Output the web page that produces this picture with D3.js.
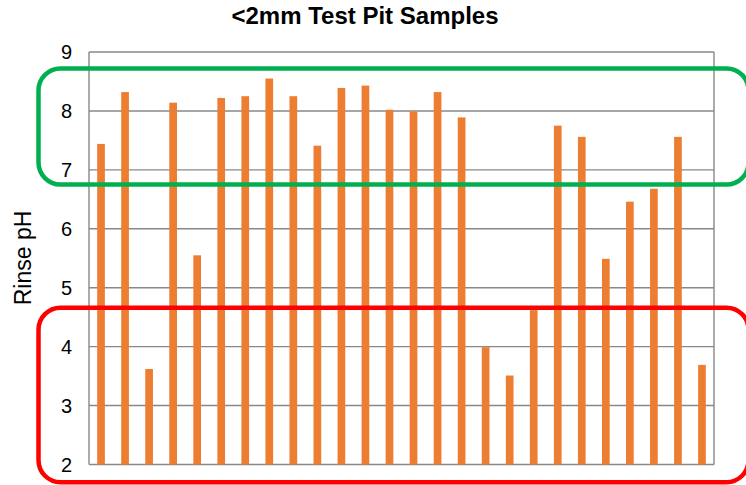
<!DOCTYPE html>
<html>
<head>
<meta charset="utf-8">
<script src="https://cdn.jsdelivr.net/npm/d3@7"></script>
<style>
  body { margin: 0; background: #fff; }
  text { font-family: "Liberation Sans", Arial, sans-serif; }
</style>
</head>
<body>
<svg id="chart" width="746" height="485"></svg>
<script>
// sample values (rinse pH)
const samples = d3.range(1, 27).map(String);
const rinsePH = [7.44, 8.32, 3.62, 8.14, 5.55, 8.22, 8.25, 8.55, 8.25, 7.41,
                 8.39, 8.43, 8.02, 7.99, 8.32, 7.89, 3.99, 3.51, 4.62, 7.75,
                 7.56, 5.49, 6.46, 6.68, 7.56, 3.69];
const yTicks = [2, 3, 4, 5, 6, 7, 8, 9];
// highlight boxes, in pH units
const boxes = [
  {top: 8.72, bottom: 6.75, color: "#00b050"},
  {top: 4.66, bottom: 1.70, color: "#ff0000"}
];

const svg = d3.select("#chart");
const margin = {left: 89, right: 32, top: 52, bottom: 20.5};
const W = 746, H = 485;

const x = d3.scaleBand().domain(samples)
  .range([margin.left, W - margin.right])
  .paddingInner(0.68).paddingOuter(0.34);
const y = d3.scaleLinear().domain([2, 9]).range([H - margin.bottom, margin.top]);

// gridlines
svg.append("g").selectAll("line").data(yTicks).enter().append("line")
  .attr("x1", margin.left).attr("x2", W - margin.right)
  .attr("y1", d => y(d)).attr("y2", d => y(d))
  .attr("stroke", "#888").attr("stroke-width", 1.4);

// side borders
svg.append("g").selectAll("line").data([margin.left, W - margin.right]).enter().append("line")
  .attr("x1", d => d).attr("x2", d => d)
  .attr("y1", y(9)).attr("y2", y(2))
  .attr("stroke", "#888").attr("stroke-width", 1.4);

// bars
svg.append("g").selectAll("rect").data(rinsePH).enter().append("rect")
  .attr("x", (d, i) => x(samples[i]))
  .attr("width", x.bandwidth())
  .attr("y", d => y(d))
  .attr("height", d => y(2) - y(d))
  .attr("fill", "#ed7d31");

// y axis labels
svg.append("g").selectAll("text").data(yTicks).enter().append("text")
  .attr("x", 72).attr("y", d => y(d))
  .attr("dy", "0.35em")
  .attr("text-anchor", "end")
  .attr("font-size", 20)
  .text(d => d);

svg.append("text")
  .attr("transform", "translate(31,258) rotate(-90)")
  .attr("text-anchor", "middle")
  .attr("font-size", 23)
  .text("Rinse pH");

svg.append("text")
  .attr("x", 365).attr("y", 24)
  .attr("text-anchor", "middle")
  .attr("font-size", 24)
  .attr("font-weight", "bold")
  .text("<2mm Test Pit Samples");

// highlight boxes
svg.append("g").selectAll("rect").data(boxes).enter().append("rect")
  .attr("x", 38.5).attr("width", 710)
  .attr("y", d => y(d.top))
  .attr("height", d => y(d.bottom) - y(d.top))
  .attr("rx", 22).attr("ry", 22)
  .attr("fill", "none")
  .attr("stroke", d => d.color)
  .attr("stroke-width", 4.5);
</script>
</body>
</html>
